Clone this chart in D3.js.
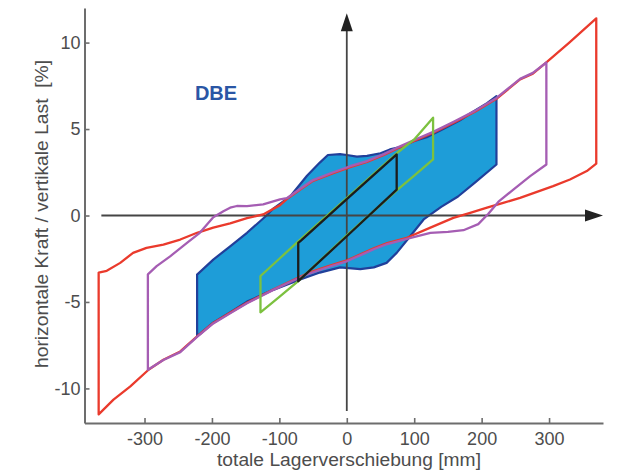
<!DOCTYPE html>
<html>
<head>
<meta charset="utf-8">
<script src="https://cdn.jsdelivr.net/npm/d3@7"></script>
<style>
  html, body { margin: 0; padding: 0; background: #fff; }
  svg { display: block; font-family: "Liberation Sans", Arial, Helvetica, sans-serif; }
  text { white-space: pre; }
</style>
</head>
<body>
<svg id="chart" width="618" height="471"></svg>
<script>
// ---- data ----
const xTicks = [-300, -200, -100, 0, 100, 200, 300];
const yTicks = [-10, -5, 0, 5, 10];
const xTitle = "totale Lagerverschiebung [mm]";
const yTitle = "horizontale Kraft / vertikale Last\u00a0\u00a0[%]";
const label = "DBE";

// red loop (largest displacement)
const redLoop = [
  [-368, -11.5], [-368, -3.3], [-356, -3.2], [-336, -2.74], [-317, -2.16], [-297, -1.87],
  [-272, -1.68], [-247, -1.39], [-222, -1.0], [-198, -0.7], [-173, -0.45], [-148, -0.15],
  [-124, 0.06], [-99, 0.6], [-89, 0.95], [-69, 1.5], [-50, 2.0], [-20, 2.45], [5, 2.8],
  [30, 3.1], [55, 3.5], [79, 3.95], [105, 4.4], [129, 4.8], [160, 5.4], [190, 6.0],
  [222, 6.75], [257, 7.87], [276, 8.2], [296, 8.85], [330, 10.0], [370, 11.4],
  [370, 3.0], [356, 2.57], [331, 2.08], [306, 1.7], [257, 1.02], [232, 0.73], [208, 0.45],
  [183, 0.15], [158, -0.14], [124, -0.7], [89, -1.29], [60, -1.6], [40, -1.9], [0, -2.6],
  [-25, -2.9], [-59, -3.35], [-109, -4.28], [-148, -5.05], [-173, -5.63], [-198, -6.21],
  [-222, -6.99], [-247, -7.86], [-272, -8.34], [-294, -8.92], [-321, -9.88], [-346, -10.65],
  [-368, -11.5]
];

// magenta loop
const magentaLoop = [
  [-295, -8.92], [-295, -3.4], [-282, -2.93], [-262, -2.36], [-237, -1.58], [-218, -1.0],
  [-198, -0.1], [-183, 0.25], [-173, 0.45], [-163, 0.55], [-148, 0.54], [-124, 0.64],
  [-99, 0.93], [-89, 1.0], [-69, 1.55], [-50, 2.05], [-20, 2.5], [5, 2.85], [30, 3.15],
  [55, 3.55], [79, 4.0], [105, 4.45], [129, 4.85], [160, 5.45], [190, 6.05], [222, 6.8],
  [257, 7.9], [276, 8.25], [296, 8.85],
  [296, 2.95], [272, 2.28], [247, 1.5], [225, 0.8], [210, 0.1], [195, -0.5], [173, -0.85],
  [150, -0.95], [124, -1.0], [89, -1.35], [60, -1.65], [40, -1.95], [0, -2.65], [-25, -2.95],
  [-59, -3.4], [-109, -4.3], [-148, -5.08], [-173, -5.66], [-198, -6.24], [-222, -7.02],
  [-247, -7.9], [-272, -8.36], [-295, -8.92]
];

// blue filled area (DBE)
const blueArea = [
  [-222, -6.99], [-222, -3.42], [-198, -2.55], [-173, -1.78], [-148, -1.0], [-119, 0],
  [-109, 0.4], [-84, 1.1], [-59, 2.3], [-40, 3.06], [-28, 3.5], [-10, 3.55], [0, 3.5],
  [15, 3.4], [30, 3.45], [50, 3.6], [64, 3.82], [79, 3.95], [99, 4.3], [120, 4.55],
  [138, 4.9], [168, 5.5], [183, 5.9], [208, 6.5], [222, 6.9],
  [222, 2.95], [190, 1.9], [165, 1.1], [140, 0.5], [114, -0.23], [94, -1.2], [74, -2.16],
  [59, -2.74], [40, -3.0], [20, -3.1], [-10, -3.0], [-40, -3.3], [-69, -3.7], [-109, -4.3],
  [-148, -4.98], [-173, -5.6], [-198, -6.2], [-222, -6.99]
];

// green loop
const greenLoop = [
  [-128, -5.6], [-128, -3.5], [-100, -2.5], [-72, -1.5], [0, 1.0], [74, 3.6], [100, 4.4],
  [128, 5.66], [128, 3.24], [100, 2.3], [74, 1.45], [0, -1.15], [-72, -3.8], [-100, -4.7],
  [-128, -5.6]
];

// black loop
const blackLoop = [
  [-72, -3.8], [-72, -1.58], [-68, -1.45], [0, 0.95], [74, 3.53],
  [74, 1.5], [0, -1.2], [-72, -3.8]
];

// ---- drawing ----
const svg = d3.select("#chart");
const x = d3.scaleLinear().domain([-389, 380]).range([84.5, 603]);
const y = d3.scaleLinear().domain([-12, 12]).range([423, 8]);
const axisCol = "#6d6d6d";
const textCol = "#4d4d4d";

const line = d3.line().x(d => x(d[0])).y(d => y(d[1]));

// blue area
svg.append("path").attr("d", line(blueArea) + "Z")
  .attr("fill", "#1e9dd8").attr("stroke", "#213f9a").attr("stroke-width", 2.2)
  .attr("stroke-linejoin", "round");

// inner cross axes with arrows
const arrowCol = "#454545";
svg.append("line").attr("x1", x(-364)).attr("x2", x(364)).attr("y1", y(0)).attr("y2", y(0))
  .attr("stroke", arrowCol).attr("stroke-width", 1.8);
svg.append("line").attr("x1", x(0)).attr("x2", x(0)).attr("y1", y(-11.3)).attr("y2", y(11.2))
  .attr("stroke", arrowCol).attr("stroke-width", 1.8);
// arrow heads
const xr = x(380), y0 = y(0), x0 = x(0), yt = y(11.7);
svg.append("path").attr("d", `M${xr},${y0} L${xr - 18},${y0 - 6} L${xr - 18},${y0 + 6} Z`).attr("fill", "#222");
svg.append("path").attr("d", `M${x0},${yt} L${x0 - 6},${yt + 18} L${x0 + 6},${yt + 18} Z`).attr("fill", "#222");

// loops
function drawLoop(data, color, w) {
  svg.append("path").attr("d", line(data) + "Z")
    .attr("fill", "none").attr("stroke", color).attr("stroke-width", w)
    .attr("stroke-linejoin", "round");
}
drawLoop(redLoop, "#ea3a2c", 2.3);
drawLoop(magentaLoop, "#a55db3", 2.3);
drawLoop(greenLoop, "#7cc13f", 2.3);
drawLoop(blackLoop, "#1c1c1c", 2.3);

// outer axes
const gx = svg.append("g").attr("transform", `translate(0,${y(-12)})`)
  .call(d3.axisBottom(x).tickValues(xTicks).tickSize(-5).tickSizeOuter(0).tickPadding(9).tickFormat(d3.format("d")));
const gy = svg.append("g").attr("transform", `translate(${x(-389)},0)`)
  .call(d3.axisLeft(y).tickValues(yTicks).tickSize(-5).tickSizeOuter(0).tickPadding(4).tickFormat(d3.format("d")));
[gx, gy].forEach(g => {
  g.select(".domain").attr("stroke", axisCol).attr("stroke-width", 2);
  g.selectAll(".tick line").attr("stroke", axisCol).attr("stroke-width", 1.6);
  g.selectAll(".tick text").attr("fill", textCol).attr("font-size", 18)
    .attr("font-family", "'Liberation Sans', Arial, sans-serif");
});
gx.selectAll(".tick text").text(d => d3.format("d")(d).replace("\u2212", "-"));
gy.selectAll(".tick text").text(d => d3.format("d")(d).replace("\u2212", "-"));

// titles
svg.append("text").attr("x", 349).attr("y", 466).attr("text-anchor", "middle")
  .attr("font-size", 17.5).attr("fill", textCol)
  .attr("textLength", 264).attr("lengthAdjust", "spacingAndGlyphs").text(xTitle);
svg.append("text").attr("transform", "translate(48,214) rotate(-90)").attr("text-anchor", "middle")
  .attr("font-size", 17.5).attr("fill", textCol)
  .attr("textLength", 308).attr("lengthAdjust", "spacingAndGlyphs").text(yTitle);

// DBE label
svg.append("text").attr("x", 216).attr("y", 100).attr("text-anchor", "middle")
  .attr("font-size", 20).attr("font-weight", "bold").attr("fill", "#2a56a5")
  .text(label);
</script>
</body>
</html>
